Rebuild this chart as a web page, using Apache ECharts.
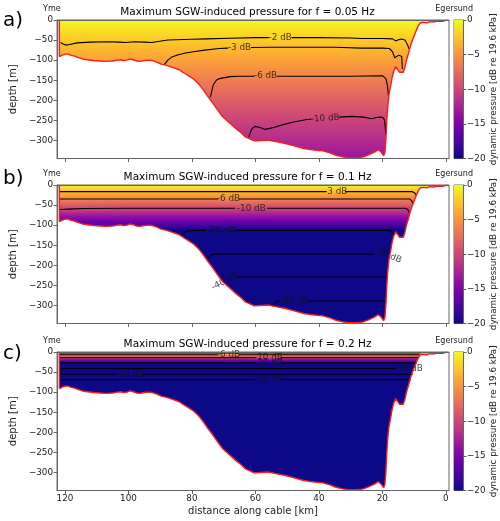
<!DOCTYPE html>
<html><head><meta charset="utf-8">
<script src="https://cdn.jsdelivr.net/npm/echarts@6/dist/echarts.min.js"></script>
<style>html,body{margin:0;padding:0;background:#fff}#c{width:500px;height:521px}</style>
</head><body><div id="c"></div>
<script>
// ---------------- DATA ----------------
const bathyKm = [121.8,121.75,121.0,120.0,119.0,118.0,117.0,116.0,114.5,113.0,111.0,109.0,107.0,105.0,103.5,102.5,101.5,100.5,99.5,98.5,97.5,96.3,95.0,93.5,92.5,91.0,89.7,88.0,86.1,84.0,82.5,81.0,79.5,78.0,76.4,75.0,73.4,71.8,70.3,68.0,66.2,64.5,63.2,61.5,60.3,58.5,56.0,53.5,50.9,48.0,44.8,41.5,38.7,36.5,34.6,32.5,30.5,28.0,26.0,24.4,22.5,21.3,20.5,19.6,19.2,18.9,18.6,18.3,17.9,17.4,16.9,16.4,15.8,15.2,14.6,14.0,13.4,12.9,12.4,11.8,11.2,10.5,9.8,9.1,8.5,8.0,7.6,7.0,6.5,6.0,5.5,5.0,4.5,4.0,3.5,3.0,2.5,2.0,1.5,1.0,0.5,0.0,-0.3];
const bathyDepth = [0,-91,-88,-85,-85,-88,-90,-93,-97,-99,-101,-102,-103,-102,-100,-99,-101,-100,-97,-99,-102,-103,-101,-100,-101,-105,-110,-113,-118,-124,-132,-139,-147,-158,-174,-190,-207,-225,-241,-257,-270,-281,-291,-297,-301,-300,-299,-303,-307,-313,-320,-324,-326,-331,-337,-341,-343,-343,-341,-336,-329,-323,-328,-338,-330,-300,-250,-215,-185,-165,-142,-127,-116,-120,-130,-134,-130,-118,-100,-84,-66,-50,-36,-22,-12,-7,-4,-6,-5,-7,-5,-4,-6,-5,-4,-3,-5,-3,-2,-3,-1,-1,0];

const titles = ['Maximum SGW-induced pressure for f = 0.05 Hz','Maximum SGW-induced pressure for f = 0.1 Hz','Maximum SGW-induced pressure for f = 0.2 Hz'];
const letters = ['a)','b)','c)'];
const xTicks = [0,20,40,60,80,100,120];
const yTicks = [0,-50,-100,-150,-200,-250,-300];
const cbTicks = [0,-5,-10,-15,-20];

// pressure (dB) vs depth (m) profiles per panel
const profDepthA = [0,45,70,140,245,345];
const profDbA    = [0,-2,-3,-6,-10,-13.5];
const profDepthB = [0,16.5,34.7,58,113,172,229,289,345];
const profDbB    = [0,-3,-6,-10,-20,-30,-40,-50,-60];
const profDepthC = [0,2.5,7,14,27,41.5,55.5,69,345];
const profDbC    = [0,-3,-6,-10,-20,-30,-40,-50,-100];

// contour segments [km, depth]
const contoursA = [
  [[121.4,-56],[120.6,-60],[119.8,-62.5],[118.5,-61],[116.2,-57],[112,-55],[106,-54],[103,-55],[100.9,-56],[98,-54],[95,-55],[92.7,-56],[87.6,-50],[80,-48],[75.4,-47],[68,-45.5],[60.1,-44],[55.8,-44]],
  [[48.6,-44],[40,-44],[30,-45],[26.5,-46],[20,-46],[16.8,-47],[15.8,-52],[15.1,-50],[14.0,-47.5],[12.9,-50],[12.1,-61],[11.6,-72]],
  [[88.7,-111],[87.6,-100],[86.5,-93],[84.6,-87],[82,-82],[79.5,-79],[76,-75],[71.4,-71],[68.6,-70]],
  [[61.4,-68.5],[55,-68],[45,-68],[35,-68],[26.5,-70],[20,-70],[17.8,-71],[16.8,-79],[16.1,-94],[15.5,-96.5],[14.8,-87.5],[14.3,-85],[13.9,-91],[13.8,-104],[13.7,-122]],
  [[74.2,-192],[73.3,-162],[72.3,-150],[71.3,-146],[68,-141],[65.3,-140],[60.3,-140]],
  [[53.2,-140],[40,-140],[30,-140],[19.9,-139],[18.9,-146],[18.4,-162],[18.1,-188]],
  [[62.1,-292],[61.6,-280],[61.1,-271],[60.1,-265],[58.5,-268],[57,-272.5],[55.5,-270],[54,-267],[51,-260],[47.9,-254],[43.8,-248],[42.4,-247]],
  [[33.6,-242],[29.5,-240],[26,-242],[23.4,-246],[21.8,-243],[20.8,-242],[19.8,-243],[19.3,-250],[18.9,-283]]
];
const labelsA = [[52.2,-44,'-2 dB',0],[65,-69,'-3 dB',0],[56.8,-140,'-6 dB',0],[38,-245,'-10 dB',4]];

const contoursB = [
  [[121.6,-16.5],[37.6,-16.5]],
  [[31.8,-16.5],[10.6,-16.5],[9.9,-19],[9.3,-25]],
  [[121.6,-34.7],[71.8,-34.7]],
  [[65.2,-34.7],[11.4,-34.7],[10.7,-40],[10.3,-47]],
  [[121.6,-61],[119,-60],[114,-58.5],[100,-58],[66.4,-58]],
  [[56.3,-58],[12.6,-58],[11.8,-63],[11.4,-71]],
  [[83,-124],[82.3,-118],[81.5,-115],[79,-113],[75.6,-113]],
  [[66.1,-113],[17.6,-113],[17.0,-116],[16.5,-124]],
  [[14.0,-126.5],[13.6,-129.5],[13.2,-126.5],[13.6,-125.5],[14.0,-126.5]],
  [[74.9,-182],[74.2,-175],[73,-172.5],[70,-172],[40,-172],[22.6,-172]],
  [[65.8,-229],[40,-229],[18.5,-229]],
  [[54.7,-302],[54.2,-296],[53.2,-290],[52.1,-289]],
  [[43.6,-289],[19.5,-289],[19.0,-292]]
];
const labelsB = [[34.7,-16.5,'-3 dB',0],[68.5,-34.7,'-6 dB',0],[61.3,-58,'-10 dB',0],[70.8,-113,'-20 dB',0],[18.3,-175,'-30 dB',-22],[69.6,-240,'-40 dB',27],[47.8,-289,'-50 dB',0]];

const contoursC = [
  [[121.7,-2.5],[8.0,-2.5]],
  [[121.7,-7],[71.8,-7]],
  [[65.2,-7],[8.3,-7]],
  [[121.7,-14],[59.8,-14]],
  [[52.0,-14],[8.7,-14]],
  [[121.7,-27],[59.8,-27]],
  [[52.0,-27],[9.2,-27]],
  [[121.7,-41.5],[15.9,-41.5]],
  [[121.7,-55.5],[103.4,-55.5]],
  [[95.8,-55.5],[10.4,-55.5]],
  [[121.7,-69],[59.8,-69]],
  [[52.0,-69],[11.0,-69]]
];
const labelsC = [[68.5,-6.5,'-6 dB',0],[55.9,-13,'-10 dB',0],[55.9,-26,'-20 dB',0],[11.8,-41.5,'-30 dB',0],[99.6,-55.5,'-40 dB',0],[55.9,-69,'-50 dB',0]];

// ---------------- HELPERS ----------------
const plasma = ['#0d0887','#41049d','#6a00a8','#8f0da4','#b12a90','#cc4778','#e16462','#f2844b','#fca636','#fcce25','#f0f921'];
function h2r(h){return [parseInt(h.slice(1,3),16),parseInt(h.slice(3,5),16),parseInt(h.slice(5,7),16)];}
function cmap(t){t=Math.max(0,Math.min(1,t));const s=t*10;const i=Math.min(9,Math.floor(s));const f=s-i;const a=h2r(plasma[i]),b=h2r(plasma[i+1]);return 'rgb('+a.map((v,k)=>Math.round(v+(b[k]-v)*f)).join(',')+')';}
function interp(xs,ys,x){if(x<=xs[0])return ys[0];for(let i=1;i<xs.length;i++){if(x<=xs[i]){const f=(x-xs[i-1])/(xs[i]-xs[i-1]);return ys[i-1]+f*(ys[i]-ys[i-1]);}}return ys[ys.length-1];}
const minus = v => (v<0?'\u2212'+Math.abs(v):''+v);
const FONT = 'DejaVu Sans';

const profiles = [[profDepthA,profDbA],[profDepthB,profDbB],[profDepthC,profDbC]];
const contours = [contoursA,contoursB,contoursC];
const labels = [labelsA,labelsB,labelsC];
const bathy = bathyKm.map((k,i)=>[k,bathyDepth[i]]);
const maxDepth = -Math.min(...bathyDepth);

function areaGradient(p){
  const stops=[];
  for(let d=0; d<=maxDepth; d+=2){
    const db=interp(p[0],p[1],d);
    stops.push({offset:d/maxDepth, color:cmap((db+20)/20)});
  }
  return new echarts.graphic.LinearGradient(0,0,0,1,stops);
}

const tops = [20,185,352];
const H = 138.5;
const grid=[], xAxis=[], yAxis=[], series=[], graphic=[];
const axColor = '#666';
const txtColor = '#222';

// main panels: grids 0-2, xAxis 0-2, yAxis 0-2
for(let i=0;i<3;i++){
  grid.push({left:46, width:403, top:tops[i], height:H, show:true, borderColor:axColor, borderWidth:1});
  xAxis.push({type:'value', gridIndex:i, min:-1, max:122.5, inverse:true, z:10,
    axisLine:{show:true, onZero:false, lineStyle:{color:axColor}},
    axisTick:{show:true, length:3.5, customValues:xTicks, lineStyle:{color:axColor}},
    axisLabel:{show:i===2, customValues:xTicks, fontFamily:FONT, fontSize:8.8, color:txtColor, margin:4},
    splitLine:{show:false},
    name: i===2 ? 'distance along cable [km]' : '', nameLocation:'middle', nameGap:16,
    nameTextStyle:{fontFamily:FONT, fontSize:10, color:txtColor}
  });
  yAxis.push({type:'value', gridIndex:i, min:-345, max:0, z:10,
    axisLine:{show:true, onZero:false, lineStyle:{color:axColor}},
    axisTick:{show:true, length:3.5, customValues:yTicks, lineStyle:{color:axColor}},
    axisLabel:{customValues:yTicks, formatter:minus, fontFamily:FONT, fontSize:8.8, color:txtColor, margin:4},
    splitLine:{show:false},
    name:'depth [m]', nameLocation:'middle', nameGap:30, nameRotate:90,
    nameTextStyle:{fontFamily:FONT, fontSize:10, color:txtColor}
  });
}
// colorbar grids 3-5, xAxis 3-5, yAxis 3-5
for(let i=0;i<3;i++){
  grid.push({left:454, width:9, top:tops[i], height:H, show:true, borderColor:axColor, borderWidth:1});
  xAxis.push({type:'category', gridIndex:3+i, data:['cb'], show:false});
  yAxis.push({type:'value', gridIndex:3+i, min:-20, max:0, interval:5, position:'right', z:10,
    axisLine:{show:true, lineStyle:{color:axColor}},
    axisTick:{show:true, length:3.5, lineStyle:{color:axColor}},
    axisLabel:{formatter:minus, fontFamily:FONT, fontSize:8.8, color:txtColor, margin:4},
    splitLine:{show:false},
    name:'dynamic pressure [dB re 19.6 kPa]', nameLocation:'middle', nameGap:23, nameRotate:90,
    nameTextStyle:{fontFamily:FONT, fontSize:8.8, color:txtColor}
  });
}
// top frame axes: xAxis 6-8
for(let i=0;i<3;i++){
  xAxis.push({type:'value', gridIndex:i, position:'top', min:-1, max:122.5, inverse:true, z:10,
    axisLine:{show:true, onZero:false, lineStyle:{color:axColor}}, axisTick:{show:false}, axisLabel:{show:false}, splitLine:{show:false}});
}

const cstops = plasma.map((c,k)=>({offset:k/10, color:plasma[10-k]}));
for(let i=0;i<3;i++){
  // water fill
  series.push({type:'line', xAxisIndex:i, yAxisIndex:i, data:bathy, showSymbol:false, silent:true, z:1,
    lineStyle:{width:0, opacity:0}, areaStyle:{origin:'end', opacity:1, color:areaGradient(profiles[i])}});
  // contours
  contours[i].forEach(seg=>{
    series.push({type:'line', xAxisIndex:i, yAxisIndex:i, data:seg, showSymbol:false, silent:true, z:3,
      lineStyle:{color:'#000', width:1.1}});
  });
  // contour labels
  series.push({type:'scatter', xAxisIndex:i, yAxisIndex:i, silent:true, z:4, symbolSize:1,
    itemStyle:{color:'rgba(0,0,0,0)'},
    data: labels[i].map(l=>({value:[l[0],l[1]], name:l[2], label:{rotate:l[3]}})),
    label:{show:true, position:'inside', formatter:'{b}', fontFamily:FONT, fontSize:8.8, color:'#111'}
  });
  // seabed line
  series.push({type:'line', xAxisIndex:i, yAxisIndex:i, data:bathy, showSymbol:false, silent:true, z:5,
    lineStyle:{color:'#ff1a1a', width:1.4}});
  // colorbar
  series.push({type:'bar', xAxisIndex:3+i, yAxisIndex:3+i, data:[-20], barWidth:'100%', silent:true,
    itemStyle:{color:new echarts.graphic.LinearGradient(0,0,0,1,cstops)}});

  graphic.push({type:'text', x:247.5, y:tops[i]-8, style:{text:titles[i], font:'10.5px "DejaVu Sans"', fill:'#000', textAlign:'center', textVerticalAlign:'middle'}});
  graphic.push({type:'text', x:43, y:tops[i]-11.5, style:{text:'Yme', font:'8px "DejaVu Sans"', fill:txtColor, textAlign:'left', textVerticalAlign:'middle'}});
  graphic.push({type:'text', x:473, y:tops[i]-11.5, style:{text:'Egersund', font:'8px "DejaVu Sans"', fill:txtColor, textAlign:'right', textVerticalAlign:'middle'}});
}
const letterY = [21,178.5,354];
for(let i=0;i<3;i++){
  graphic.push({type:'text', x:3, y:letterY[i], style:{text:letters[i], font:'20px "DejaVu Sans"', fill:'#000', textAlign:'left', textVerticalAlign:'middle'}});
}

const chart = echarts.init(document.getElementById('c'), null, {renderer:'canvas'});
chart.setOption({animation:false, backgroundColor:'#fff', grid, xAxis, yAxis, series, graphic});
</script></body></html>
